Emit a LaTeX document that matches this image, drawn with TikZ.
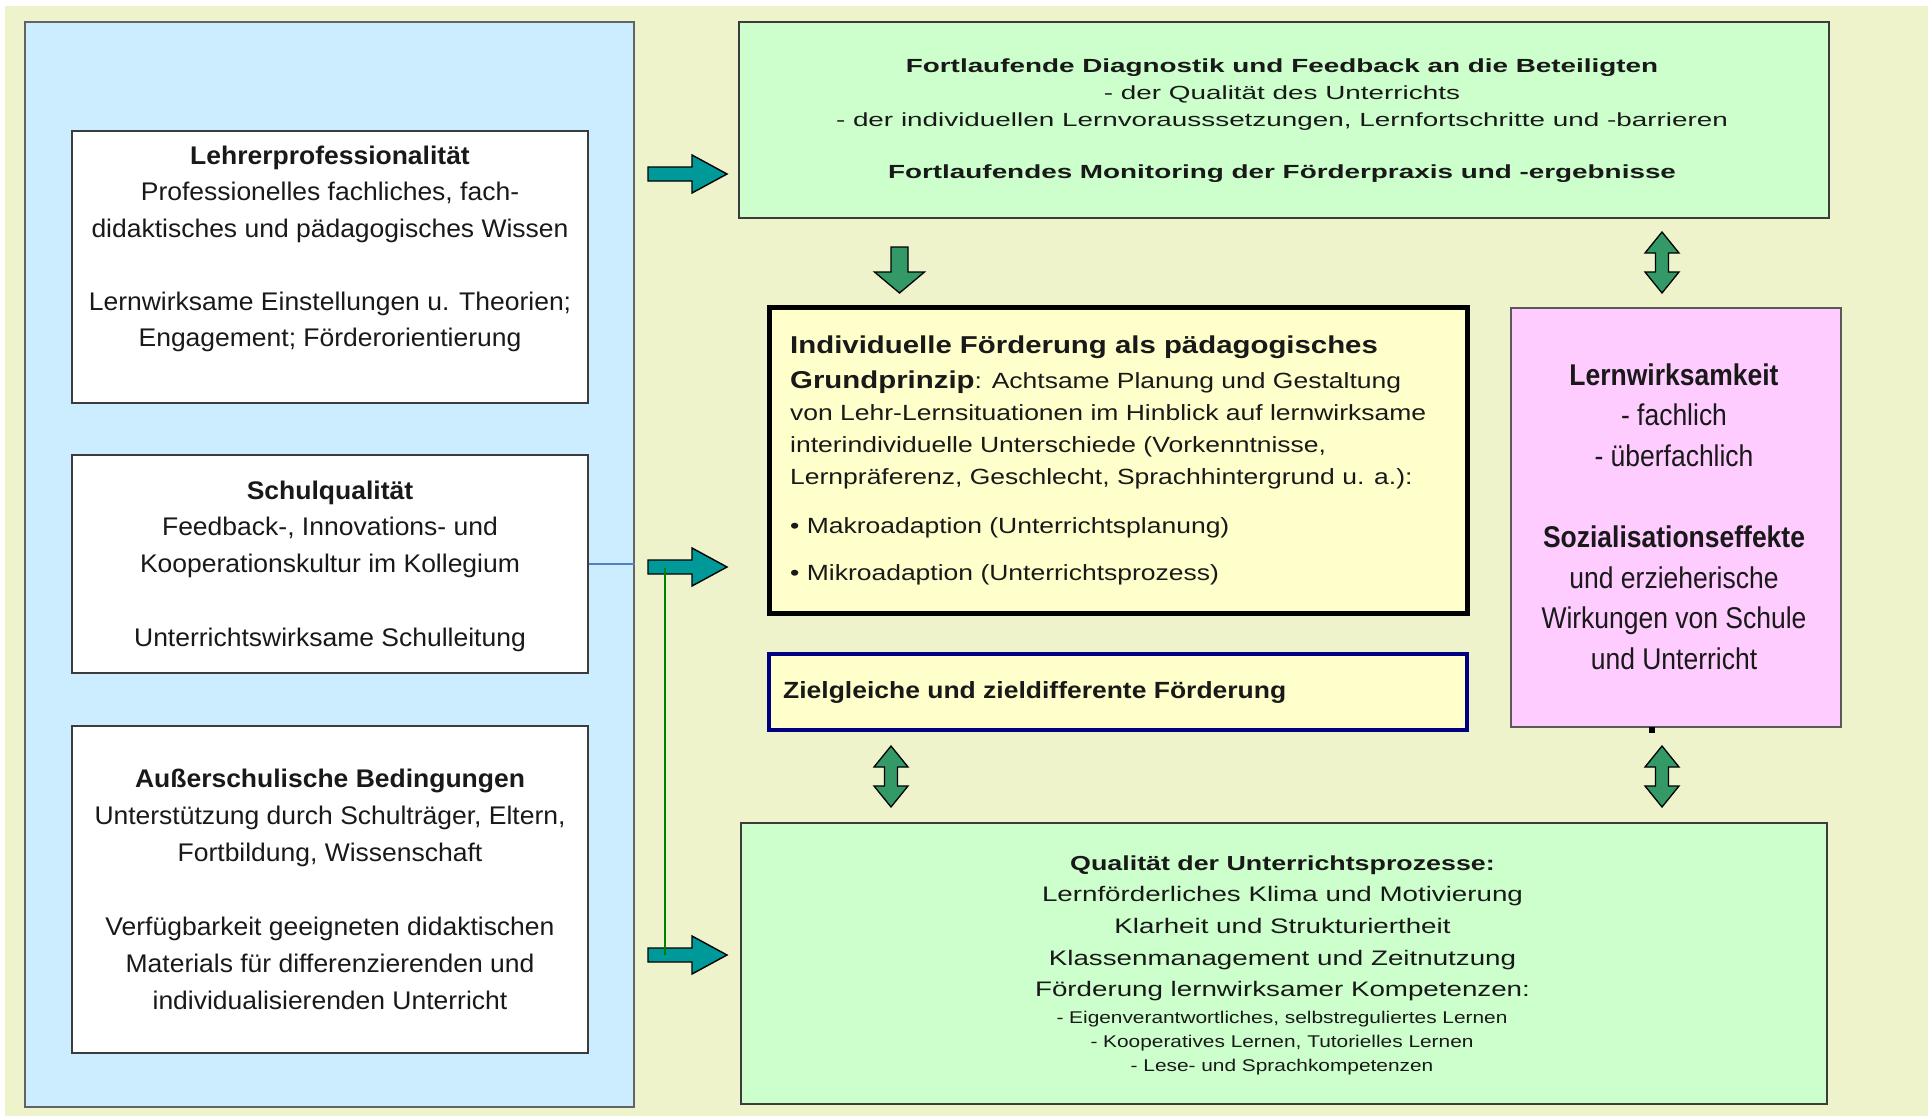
\documentclass[tikz,border=0pt]{standalone}
\usepackage{fontspec}
\setmainfont{Liberation Sans}
\usepackage{graphicx}
\definecolor{bgcol}{RGB}{238,243,204}
\definecolor{panelcol}{RGB}{204,236,255}
\definecolor{greencol}{RGB}{204,255,204}
\definecolor{yellowcol}{RGB}{255,255,204}
\definecolor{pinkcol}{RGB}{255,204,255}
\definecolor{tealcol}{RGB}{0,153,153}
\definecolor{arrowgreen}{RGB}{51,153,102}
\definecolor{navycol}{RGB}{0,0,128}
\definecolor{txtcol}{RGB}{25,25,25}
\definecolor{bordercol}{RGB}{60,60,60}
\definecolor{linkblue}{RGB}{79,129,189}
\definecolor{linkgreen}{RGB}{0,128,0}
\newlength\reflen
\newcommand\fitblock[3]{\settowidth\reflen{#2}\pgfmathsetmacro\sfac{#1/\reflen}\scalebox{\sfac}[1]{#3}}
\newcommand\fL[1]{\fontsize{25.5}{#1}\selectfont}
\newcommand\fT{\fontsize{19}{26.7}\selectfont}
\newcommand\fY{\fontsize{22}{32.3}\selectfont}
\newcommand\fYB{\fontsize{24.4}{32.3}\selectfont\bfseries}
\newcommand\fZ{\fontsize{23.4}{30}\selectfont\bfseries}
\newcommand\fP{\fontsize{30}{40.7}\selectfont}
\newcommand\fB{\fontsize{21}{31.7}\selectfont}
\newcommand\fBB{\fontsize{20.3}{31.7}\selectfont\bfseries}
\newcommand\fS{\fontsize{17}{24}\selectfont}
\newcommand\rarrow[2]{\draw[tealarrow] (#1,#2-7) -- (#1+44,#2-7) -- (#1+44,#2-19) -- (#1+79,#2) -- (#1+44,#2+19) -- (#1+44,#2+7) -- (#1,#2+7) -- cycle;}
\newcommand\dblarrow[3]{\draw[greenarrow] (#1,#2) -- (#1+17,#2+21) -- (#1+6.5,#2+21) -- (#1+6.5,#3-21) -- (#1+17,#3-21) -- (#1,#3) -- (#1-17,#3-21) -- (#1-6.5,#3-21) -- (#1-6.5,#2+21) -- (#1-17,#2+21) -- cycle;}
\begin{document}
\begin{tikzpicture}[x=1pt,y=-1pt,
  panel/.style={draw=bordercol!80!white,line width=1.6pt,fill=panelcol,inner sep=0},
  whitebox/.style={draw=bordercol,line width=2.4pt,fill=white,inner sep=0},
  greenbox/.style={draw=bordercol,line width=2.2pt,fill=greencol,inner sep=0},
  mainbox/.style={draw=black,line width=5pt,fill=yellowcol,inner sep=0},
  zielbox/.style={draw=navycol,line width=3.2pt,fill=yellowcol,inner sep=0},
  pinkbox/.style={draw=bordercol!85!white,line width=2pt,fill=pinkcol,inner sep=0},
  txt/.style={anchor=base,inner sep=0,text=txtcol},
  tealarrow/.style={fill=tealcol,draw=black,line width=1.4pt,line join=miter},
  greenarrow/.style={fill=arrowgreen,draw=black,line width=1.3pt,line join=miter},
]
\useasboundingbox (0,0) rectangle (1928,1116);
\fill[white] (0,0) rectangle (1928,1116);
\fill[bgcol] (5,6) rectangle (1928,1116);

% left panel and boxes
\node[panel,minimum width=609pt,minimum height=1085pt] (panel) at (329.5,564.5) {};
\node[whitebox,minimum width=516pt,minimum height=272pt] (box1) at (330,267) {};
\node[whitebox,minimum width=516pt,minimum height=218pt] (box2) at (330,564) {};
\node[whitebox,minimum width=516pt,minimum height=327pt] (box3) at (330,889.5) {};

\node[txt] (t1) at (330,164) {\fitblock{477}{\fL{36.5}didaktisches und pädagogisches Wissen}{\fL{36.5}\begin{tabular}[t]{@{}c@{}}\textbf{Lehrerprofessionalität}\\Professionelles fachliches, fach-\\didaktisches und pädagogisches Wissen\\[36.5pt]Lernwirksame Einstellungen u. Theorien;\\Engagement; Förderorientierung\end{tabular}}};
\node[txt] (t2) at (330,499) {\fitblock{380}{\fL{36.5}Kooperationskultur im Kollegium}{\fL{36.5}\begin{tabular}[t]{@{}c@{}}\textbf{Schulqualität}\\Feedback-, Innovations- und\\Kooperationskultur im Kollegium\\[37.5pt]Unterrichtswirksame Schulleitung\end{tabular}}};
\node[txt] (t3) at (330,787) {\fitblock{471}{\fL{37}Unterstützung durch Schulträger, Eltern,}{\fL{37}\begin{tabular}[t]{@{}c@{}}\textbf{Außerschulische Bedingungen}\\Unterstützung durch Schulträger, Eltern,\\Fortbildung, Wissenschaft\\[37pt]Verfügbarkeit geeigneten didaktischen\\Materials für differenzierenden und\\individualisierenden Unterricht\end{tabular}}};

% top green box
\node[greenbox,minimum width=1090pt,minimum height=196pt] (diag) at (1284,120) {};
\node[txt] (tdiag) at (1282,72.7) {\fitblock{892}{\fT - der individuellen Lernvorausssetzungen, Lernfortschritte und -barrieren}{\fT\begin{tabular}[t]{@{}c@{}}\textbf{Fortlaufende Diagnostik und Feedback an die Beteiligten}\\- der Qualität des Unterrichts\\- der individuellen Lernvorausssetzungen, Lernfortschritte und -barrieren\\[25.6pt]\textbf{Fortlaufendes Monitoring der Förderpraxis und -ergebnisse}\end{tabular}}};

% main yellow box
\node[mainbox,minimum width=698pt,minimum height=306pt] (main) at (1118,460) {};
\node[txt,anchor=base west] (tmain) at (790,353) {\fitblock{636}{\fY von Lehr-Lernsituationen im Hinblick auf lernwirksame}{\fY\begin{tabular}[t]{@{}l@{}}{\fYB Individuelle Förderung als pädagogisches}\\[2.7pt]{\fYB Grundprinzip}: Achtsame Planung und Gestaltung\\von Lehr-Lernsituationen im Hinblick auf lernwirksame\\interindividuelle Unterschiede (Vorkenntnisse,\\Lernpräferenz, Geschlecht, Sprachhintergrund u. a.):\\[16.7pt]• Makroadaption (Unterrichtsplanung)\\[14.7pt]• Mikroadaption (Unterrichtsprozess)\end{tabular}}};

% ziel box
\node[zielbox,minimum width=698pt,minimum height=76pt] (ziel) at (1118,692) {};
\node[txt,anchor=base west] (tziel) at (783,698) {\fitblock{503}{\fZ Zielgleiche und zieldifferente Förderung}{\fZ Zielgleiche und zieldifferente Förderung}};

% pink box
\node[pinkbox,minimum width=330pt,minimum height=419pt] (pink) at (1676,517.5) {};
\node[txt] (tpink) at (1674,385) {\fitblock{265}{\fP Wirkungen von Schule}{\fP\begin{tabular}[t]{@{}c@{}}\textbf{Lernwirksamkeit}\\- fachlich\\- überfachlich\\[40.3pt]\textbf{Sozialisationseffekte}\\und erzieherische\\Wirkungen von Schule\\und Unterricht\end{tabular}}};
\fill[black] (1648.5,727) rectangle (1655,733);

% bottom green box
\node[greenbox,minimum width=1086pt,minimum height=281pt] (proc) at (1284,963.5) {};
\node[txt] (tproc) at (1282.5,870) {\fitblock{481}{\fB Lernförderliches Klima und Motivierung}{\fB\begin{tabular}[t]{@{}c@{}}{\fBB Qualität der Unterrichtsprozesse:}\\Lernförderliches Klima und Motivierung\\Klarheit und Strukturiertheit\\Klassenmanagement und Zeitnutzung\\Förderung lernwirksamer Kompetenzen:\end{tabular}}};
\node[txt] (tproc2) at (1282,1023) {\fitblock{451}{\fS - Eigenverantwortliches, selbstreguliertes Lernen}{\fS\begin{tabular}[t]{@{}c@{}}- Eigenverantwortliches, selbstreguliertes Lernen\\- Kooperatives Lernen, Tutorielles Lernen\\- Lese- und Sprachkompetenzen\end{tabular}}};

% connectors
\coordinate (bl) at (box2.east -| panel.east);
\draw[linkblue,line width=1.6pt] (box2.east) -- (bl);
\rarrow{648}{174}
\rarrow{648}{567}
\rarrow{648}{955}
\coordinate (g1) at (665,568);
\coordinate (g2) at (665,955);
\draw[linkgreen,line width=1.6pt] (g1) -- (g2);

% down arrow
\draw[greenarrow] (891,247) -- (908,247) -- (908,272) -- (924.5,272) -- (899.5,293) -- (874.5,272) -- (891,272) -- cycle;
% double arrows
\dblarrow{1662}{232}{293}
\dblarrow{891}{746}{807}
\dblarrow{1662}{746}{807}
\end{tikzpicture}
\end{document}
